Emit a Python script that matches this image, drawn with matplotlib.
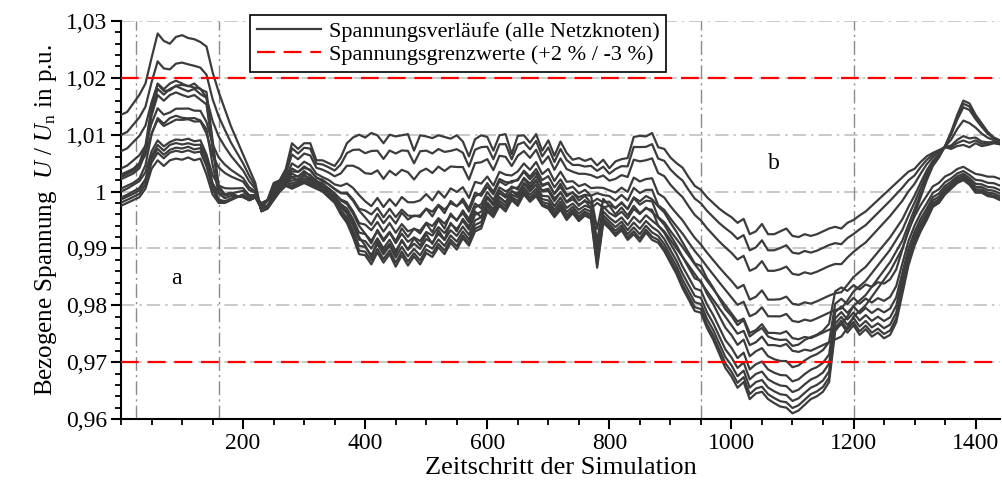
import matplotlib
matplotlib.use("Agg")
import matplotlib.pyplot as plt
from matplotlib.ticker import MultipleLocator, FixedLocator
import numpy as np

plt.rcParams['font.family'] = ['Liberation Serif', 'DejaVu Serif']
plt.rcParams['mathtext.fontset'] = 'custom'
plt.rcParams['mathtext.rm'] = 'Liberation Serif'
plt.rcParams['mathtext.it'] = 'Liberation Serif:italic'

# time steps (every 10th step of the simulation)
t = np.arange(0, 1441, 10)

# voltage of the node next to the transformer
v_near = [
    0.9975, 0.998, 0.9985, 0.999, 1.0005, 1.004, 1.0055, 1.0045, 1.0055, 1.0058,
    1.0056, 1.006, 1.0055, 1.0058, 1.003, 0.9995, 0.998, 0.998, 0.9985, 0.999,
    0.9995, 0.9985, 0.999, 0.998, 0.9985, 1.0015, 1.002, 1.004, 1.0085, 1.0075,
    1.0085, 1.0085, 1.0055, 1.0055, 1.005, 1.0045, 1.006, 1.0085, 1.0095, 1.010,
    1.0095, 1.0103, 1.0099, 1.0085, 1.010, 1.0097, 1.0099, 1.0101, 1.0072, 1.0099,
    1.0097, 1.0094, 1.0099, 1.0096, 1.0093, 1.0099, 1.0088, 1.0062, 1.0092, 1.0099,
    1.0096, 1.0072, 1.0099, 1.0101, 1.0066, 1.0098, 1.0099, 1.0086, 1.0101, 1.0072,
    1.009, 1.0063, 1.0088, 1.0068, 1.0056, 1.0059, 1.0054, 1.0058, 1.0046, 1.0056,
    1.0041, 1.0053, 1.0057, 1.0059, 1.0096, 1.0098, 1.0097, 1.0103, 1.0078, 1.0075,
    1.006, 1.005, 1.0042, 1.0025, 1.001, 1.0003, 0.999, 0.998, 0.997, 0.9962,
    0.9955, 0.9945, 0.9952, 0.9925, 0.993, 0.9943, 0.9925, 0.9925, 0.993, 0.9935,
    0.9922, 0.992, 0.9925, 0.9922, 0.9925, 0.993, 0.9935, 0.9938, 0.9935, 0.9945,
    0.995, 0.9958, 0.9965, 0.9975, 0.9985, 0.9995, 1.0005, 1.0015, 1.0025, 1.0035,
    1.004, 1.0052, 1.0062, 1.0068, 1.0073, 1.0078, 1.0075, 1.008, 1.0082, 1.0078,
    1.0085, 1.008, 1.0082, 1.0085, 1.0083,
]

# voltage at the end of feeder 1
v_end1 = [
    1.003, 1.0035, 1.004, 1.005, 1.008, 1.015, 1.019, 1.018, 1.019, 1.0195,
    1.019, 1.0185, 1.019, 1.018, 1.0175, 1.009, 1.001, 0.9995, 0.9998, 0.9992,
    0.999, 0.9985, 0.999, 0.997, 0.9985, 0.9995, 1.001, 1.0015, 1.0025, 1.002,
    1.003, 1.002, 1.0015, 1.0005, 1.000, 0.999, 0.9975, 0.9965, 0.9945, 0.992,
    0.9905, 0.9885, 0.9912, 0.9895, 0.9908, 0.989, 0.9915, 0.9898, 0.9918, 0.9905,
    0.9925, 0.9908, 0.9932, 0.9915, 0.9945, 0.993, 0.9952, 0.9938, 0.9965, 0.9955,
    0.9978, 0.9968, 0.999, 0.998, 1.0002, 0.9992, 1.0015, 1.0005, 1.0018, 1.0002,
    1.0005, 0.9988, 0.9998, 0.9982, 0.9992, 0.9975, 0.9985, 0.997, 0.998, 0.9972,
    0.9975, 0.996, 0.9972, 0.9958, 0.9975, 0.9962, 0.997, 0.9968, 0.994, 0.993,
    0.9915, 0.990, 0.9885, 0.987, 0.9855, 0.984, 0.9825, 0.981, 0.9795, 0.978,
    0.9765, 0.975, 0.9755, 0.973, 0.9735, 0.9745, 0.973, 0.973, 0.9728, 0.9732,
    0.972, 0.9718, 0.9722, 0.972, 0.9725, 0.973, 0.9735, 0.974, 0.9745, 0.976,
    0.978, 0.979, 0.980, 0.9815, 0.983, 0.9845, 0.986, 0.988, 0.990, 0.993,
    0.996, 0.999, 1.002, 1.0045, 1.006, 1.008, 1.0105, 1.0135, 1.016, 1.0155,
    1.0135, 1.012, 1.0105, 1.0095, 1.009,
]

# voltage at the end of feeder 2
v_end2 = [
    1.0135, 1.014, 1.0155, 1.017, 1.019, 1.0235, 1.0278, 1.0265, 1.026, 1.0272,
    1.0275, 1.027, 1.0268, 1.0263, 1.0255, 1.021, 1.0175, 1.0145, 1.0115, 1.009,
    1.0065, 1.004, 1.0015, 0.9965, 0.997, 0.9985, 1.000, 1.001, 1.0005, 1.001,
    1.0015, 1.001, 1.0005, 1.000, 0.999, 0.998, 0.996, 0.9945, 0.992, 0.989,
    0.9888, 0.9872, 0.9893, 0.9875, 0.989, 0.9868, 0.9888, 0.987, 0.9886, 0.9872,
    0.9892, 0.9885, 0.9902, 0.989, 0.991, 0.9898, 0.9918, 0.9905, 0.993, 0.9935,
    0.9965, 0.9955, 0.9975, 0.9965, 0.9985, 0.9975, 0.9995, 0.9982, 0.9992, 0.9975,
    0.997, 0.9955, 0.9968, 0.995, 0.9962, 0.9948, 0.9958, 0.9952, 0.9866, 0.9945,
    0.9935, 0.9922, 0.9932, 0.9915, 0.9925, 0.9912, 0.9928, 0.9915, 0.991, 0.9895,
    0.9875, 0.9855, 0.983, 0.981, 0.979, 0.9787, 0.976, 0.974, 0.9715, 0.969,
    0.9675, 0.9655, 0.9665, 0.9635, 0.9645, 0.9648, 0.9635, 0.9628, 0.9622, 0.962,
    0.961, 0.9615, 0.9625, 0.9635, 0.964, 0.9648, 0.9665, 0.9755, 0.9768, 0.9752,
    0.9765, 0.9748, 0.9758, 0.9745, 0.9752, 0.9742, 0.9748, 0.977, 0.982, 0.987,
    0.9905, 0.993, 0.995, 0.9973, 0.998, 0.9995, 1.0005, 1.0015, 1.002, 1.0012,
    0.9998, 0.9998, 0.9992, 0.999, 0.9985,
]

# position of each node along its feeder (share of the end-node deviation)
feeder1_rise = [0.0, 0.10, 0.20, 0.55, 0.85, 0.93, 1.0]
feeder1_drop = [0.0, 0.145, 0.33, 0.59, 0.74, 0.89, 1.0]
feeder2_rise = [0.09, 0.157, 0.32, 0.41, 0.60, 0.78, 1.0]
feeder2_drop = [0.62, 0.74, 0.82, 0.88, 0.93, 0.97, 1.0]

limit_upper = 1.02
limit_lower = 0.97
marker_steps = [25, 160, 950, 1200]

y_ticks = [0.96, 0.97, 0.98, 0.99, 1.00, 1.01, 1.02, 1.03]
y_labels = ["0,96", "0,97", "0,98", "0,99", "1", "1,01", "1,02", "1,03"]

v_near = np.array(v_near)
v_end1 = np.array(v_end1)
v_end2 = np.array(v_end2)

fig = plt.figure(figsize=(10.02, 4.96), dpi=100)
ax = fig.add_axes([0.1208, 0.1552, 0.8772, 0.8025])

line_col = '#3c3c3c'
first = True
for v_end, rise, drop in [(v_end1, feeder1_rise, feeder1_drop),
                          (v_end2, feeder2_rise, feeder2_drop)]:
    dev = v_end - v_near
    for wr, wd in zip(rise, drop):
        w = np.where(dev > 0, wr, wd)
        ax.plot(t, v_near + w * dev, color=line_col, lw=1.6, zorder=3,
                label='Spannungsverläufe (alle Netzknoten)' if first else None)
        first = False

ax.axhline(limit_upper, color='#ff0000', lw=1.6, dashes=(8, 4), zorder=4,
           label='Spannungsgrenzwerte (+2 % / -3 %)')
ax.axhline(limit_lower, color='#ff0000', lw=1.6, dashes=(8, 4), zorder=4)

for ys in y_ticks[1:]:
    ax.axhline(ys, color='#c0c0c0', lw=1.2, ls=(0, (8, 3, 1.5, 3)), zorder=1)
for xs in marker_steps:
    ax.axvline(xs, color='#8a8a8a', lw=1.0, ls=(0, (10, 3, 1.5, 3)), zorder=1)

ax.text(90, 0.9848, 'a', fontsize=17, ha='center', va='center')
ax.text(1070, 1.005, 'b', fontsize=17, ha='center', va='center')

ax.set_xlim(0, 1440)
ax.set_ylim(0.96, 1.03)
ax.xaxis.set_major_locator(FixedLocator([200, 400, 600, 800, 1000, 1200, 1400]))
ax.xaxis.set_minor_locator(MultipleLocator(50))
ax.set_yticks(y_ticks)
ax.set_yticklabels(y_labels)
ax.yaxis.set_minor_locator(MultipleLocator(0.002))
ax.tick_params(which='major', direction='out', length=7, width=1.5, labelsize=17, pad=3)
ax.tick_params(which='minor', direction='out', length=4, width=1.3)

for s in ['top', 'right']:
    ax.spines[s].set_visible(False)
for s in ['left', 'bottom']:
    ax.spines[s].set_linewidth(1.5)

ax.set_xlabel('Zeitschritt der Simulation', fontsize=19, labelpad=2)
ax.set_ylabel('Bezogene Spannung  $U$ / $U_\\mathrm{n}$ in p.u.', fontsize=18, labelpad=5)

leg = ax.legend(loc='upper left', bbox_to_anchor=(0.1468, 1.015), borderaxespad=0,
                fontsize=16, frameon=True, fancybox=False, framealpha=1,
                edgecolor='black', handlelength=2.9, handletextpad=0.35,
                borderpad=0.3, labelspacing=0.1)
leg.get_frame().set_linewidth(1.2)

fig.savefig('out.png', dpi=100)
